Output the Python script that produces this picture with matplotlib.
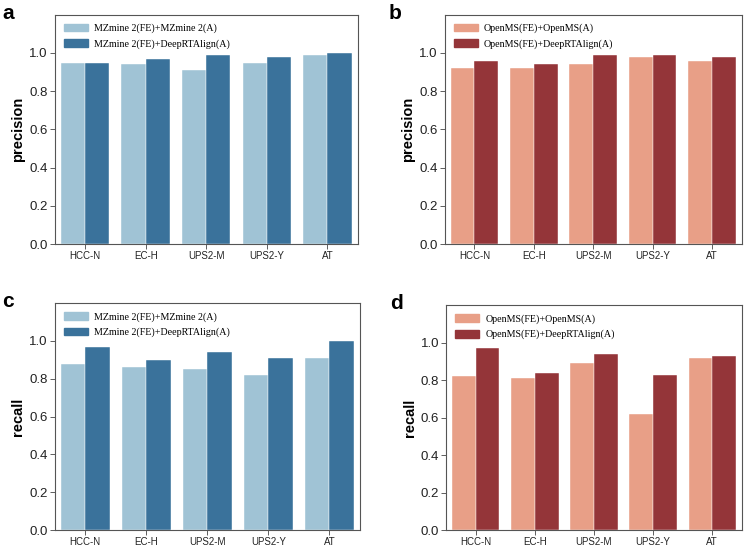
import numpy as np
from matplotlib import pyplot as plt
from matplotlib.patches import Patch

categories = ['HCC-N', 'EC-H', 'UPS2-M', 'UPS2-Y', 'AT']

# precision, MZmine 2
a_base = [0.95, 0.94, 0.91, 0.95, 0.99]
a_deep = [0.95, 0.97, 0.99, 0.98, 1.00]
# precision, OpenMS
b_base = [0.92, 0.92, 0.94, 0.98, 0.96]
b_deep = [0.96, 0.94, 0.99, 0.99, 0.98]
# recall, MZmine 2
c_base = [0.88, 0.86, 0.85, 0.82, 0.91]
c_deep = [0.97, 0.90, 0.94, 0.91, 1.00]
# recall, OpenMS
d_base = [0.82, 0.81, 0.89, 0.62, 0.92]
d_deep = [0.97, 0.84, 0.94, 0.83, 0.93]

mz_labels = ['MZmine 2(FE)+MZmine 2(A)', 'MZmine 2(FE)+DeepRTAlign(A)']
op_labels = ['OpenMS(FE)+OpenMS(A)', 'OpenMS(FE)+DeepRTAlign(A)']
blues = ['#a0c3d5', '#3a729b']
reds = ['#e89f87', '#943539']

fig = plt.figure(figsize=(7.5, 5.46), dpi=100)

panels = [
    ('a', [0.073, 0.553, 0.404, 0.42], a_base, a_deep, mz_labels, blues, 'precision'),
    ('b', [0.593, 0.553, 0.396, 0.42], b_base, b_deep, op_labels, reds, 'precision'),
    ('c', [0.073, 0.029, 0.407, 0.416], c_base, c_deep, mz_labels, blues, 'recall'),
    ('d', [0.595, 0.029, 0.394, 0.412], d_base, d_deep, op_labels, reds, 'recall'),
]

x = np.arange(len(categories))
w = 0.4
for letter, rect, base, deep, labels, cols, ylab in panels:
    ax = fig.add_axes(rect)
    ax.bar(x - w / 2, base, w, color=cols[0], edgecolor='white', linewidth=0.3)
    ax.bar(x + w / 2, deep, w, color=cols[1], edgecolor='white', linewidth=0.3)
    ax.set_xlim(-0.5, 4.5)
    ax.set_ylim(0, 1.2)
    ax.set_yticks([0, 0.2, 0.4, 0.6, 0.8, 1.0])
    ax.set_yticklabels(['0.0', '0.2', '0.4', '0.6', '0.8', '1.0'],
                       family='Liberation Sans', fontsize=9.5, color='#222222')
    ax.set_xticks(x)
    ax.set_xticklabels(categories, family='Liberation Sans', fontsize=7, color='#222222')
    ax.tick_params(axis='both', length=3.5, width=0.6, color='#444444', pad=1.5)
    ax.set_ylabel(ylab, family='Liberation Sans', fontsize=10.5, fontweight='bold', labelpad=3)
    for s in ax.spines.values():
        s.set_color('#555555')
        s.set_linewidth(0.8)
    handles = [Patch(color=cols[0]), Patch(color=cols[1])]
    ax.legend(handles, labels, loc='upper left', frameon=False,
              prop={'family': 'Liberation Serif', 'size': 7.2},
              handlelength=2.4, handleheight=0.8, handletextpad=0.6,
              labelspacing=0.6, borderaxespad=0.5, bbox_to_anchor=(0.0, 1.0))
    bb = ax.get_position()
    fig.text(bb.x0 - 0.07 if letter in 'ac' else bb.x0 - 0.075, bb.y1 + 0.003, letter,
             family='Liberation Sans', fontsize=15, fontweight='bold', va='center')

fig.savefig('out.png', dpi=100)
